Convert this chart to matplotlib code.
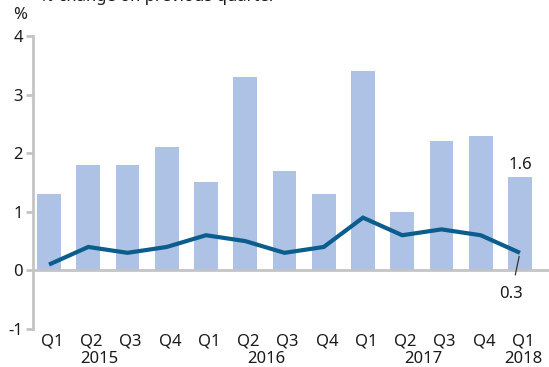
import matplotlib
matplotlib.use("Agg")
import matplotlib.pyplot as plt
import matplotlib.transforms as mtransforms
import numpy as np

plt.rcParams['font.family'] = ['Noto Sans', 'DejaVu Sans']

quarters = ["Q1", "Q2", "Q3", "Q4", "Q1", "Q2", "Q3", "Q4", "Q1", "Q2", "Q3", "Q4", "Q1"]
years = ["2015", "2016", "2017", "2018"]
year_pos = [1.2, 5.45, 9.45, 12.0]
annual_growth = [1.3, 1.8, 1.8, 2.1, 1.5, 3.3, 1.7, 1.3, 3.4, 1.0, 2.2, 2.3, 1.6]
quarterly_growth = [0.1, 0.4, 0.3, 0.4, 0.6, 0.5, 0.3, 0.4, 0.9, 0.6, 0.7, 0.6, 0.3]

bar_color = "#adc2e5"
line_color = "#0a5d8c"
axis_color = "#c4c4c8"
text_color = "#1a1a1a"

fig = plt.figure(figsize=(5.49, 3.67), dpi=100)
ax = fig.add_axes([0.060, 0.1035, 0.94, 0.7985])

x = np.arange(len(quarters))
ax.bar(x, annual_growth, width=0.61, color=bar_color, zorder=2)
ax.axhline(0, color=axis_color, lw=2, zorder=3)
ax.plot(x, quarterly_growth, color=line_color, lw=3, solid_capstyle='butt',
        solid_joinstyle='miter', zorder=4)

ax.set_xlim(-0.41, 12.74)
ax.set_ylim(-1, 4)
ax.set_yticks([-1, 0, 1, 2, 3, 4])
ax.set_yticklabels(["-1", "0", "1", "2", "3", "4"])
ax.set_xticks(x + 0.08)
ax.set_xticklabels(quarters)

for side in ["top", "right", "bottom"]:
    ax.spines[side].set_visible(False)
ax.spines["left"].set_color(axis_color)
ax.spines["left"].set_linewidth(2)
ax.tick_params(axis='y', length=5, width=2, color=axis_color, labelsize=12,
               labelcolor=text_color, pad=2)
ax.tick_params(axis='x', length=0, labelsize=12, labelcolor=text_color, pad=3)

trans = mtransforms.blended_transform_factory(ax.transData, fig.transFigure)
for yr, pos in zip(years, year_pos):
    ax.text(pos + 0.08, 0.012, yr, transform=trans, ha='center', va='baseline',
            fontsize=12, color=text_color)

# value callouts on the latest quarter
last = len(quarters) - 1
ax.text(last, annual_growth[last] + 0.06, f"{annual_growth[last]:.1f}",
        ha='center', va='bottom', fontsize=12, color=text_color)
ax.annotate(f"{quarterly_growth[last]:.1f}", xy=(last - 0.02, quarterly_growth[last] - 0.06),
            xytext=(last - 0.22, -0.4), ha='center', va='center', fontsize=12,
            color=text_color,
            arrowprops=dict(arrowstyle='-', color='#333333', lw=0.9,
                            shrinkA=6, shrinkB=0))

fig.text(0.024, 0.96, "%", ha='left', va='center', fontsize=12, color=text_color)
fig.text(0.073, 0.9975, "% change on previous quarter", ha='left', va='baseline',
         fontsize=12, color=text_color)

fig.savefig("out.png", dpi=100)
